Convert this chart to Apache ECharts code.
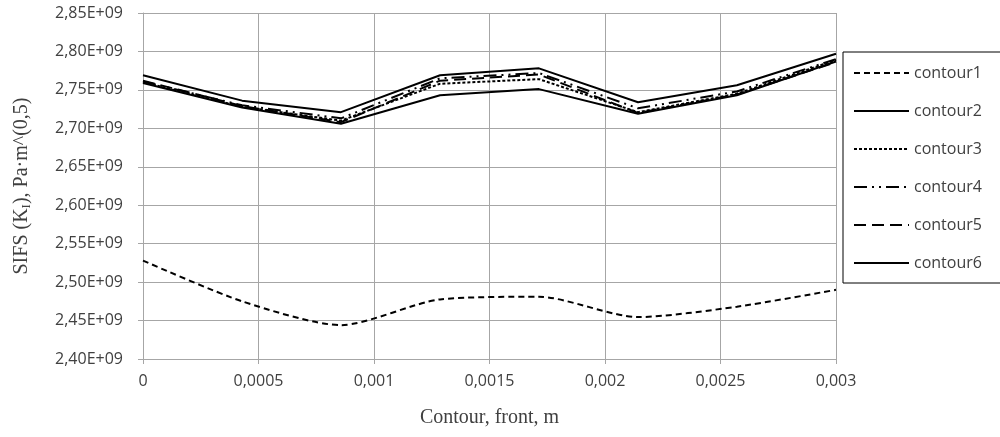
<!DOCTYPE html>
<html>
<head>
<meta charset="utf-8">
<script src="https://cdn.jsdelivr.net/npm/echarts@6/dist/echarts.min.js"></script>
<style>
  html, body { margin: 0; padding: 0; background: #fff; }
  #main { width: 1000px; height: 437px; }
</style>
</head>
<body>
<div id="main"></div>
<script>
// crack front position, m
var front = [0, 0.000429, 0.000857, 0.001286, 0.001714, 0.002143, 0.002571, 0.003];

// SIFS values, Pa*m^0.5
var contour1 = [2.528e9, 2.475e9, 2.444e9, 2.4775e9, 2.481e9, 2.4545e9, 2.468e9, 2.490e9];
var contour2 = [2.759e9, 2.727e9, 2.706e9, 2.743e9, 2.751e9, 2.719e9, 2.743e9, 2.787e9];
var contour3 = [2.760e9, 2.728e9, 2.710e9, 2.758e9, 2.764e9, 2.721e9, 2.745e9, 2.789e9];
var contour4 = [2.761e9, 2.730e9, 2.713e9, 2.765e9, 2.772e9, 2.726e9, 2.748e9, 2.790e9];
var contour5 = [2.762e9, 2.729e9, 2.708e9, 2.762e9, 2.770e9, 2.720e9, 2.744e9, 2.786e9];
var contour6 = [2.769e9, 2.736e9, 2.721e9, 2.769e9, 2.778e9, 2.734e9, 2.756e9, 2.797e9];

var names = ['contour1', 'contour2', 'contour3', 'contour4', 'contour5', 'contour6'];
var values = [contour1, contour2, contour3, contour4, contour5, contour6];
var dashes = [[6, 4], 'solid', [3, 2], [13, 5, 2, 5, 2, 5], [12, 6], 'solid'];

function pairs(ys) {
  return front.map(function (x, i) { return [x, ys[i]]; });
}

var chart = echarts.init(document.getElementById('main'));
var gridColor = '#a6a6a6';
var labelFont = 'Open Sans';

var option = {
  animation: false,
  backgroundColor: '#fff',
  grid: { left: 143, right: 164, top: 13, bottom: 78 },
  legend: {
    orient: 'vertical',
    left: 843,
    top: 52,
    data: names,
    itemWidth: 55,
    itemHeight: 14,
    itemGap: 22,
    padding: [13, 110, 12, 10],
    borderColor: '#000',
    borderWidth: 1,
    itemStyle: { opacity: 0 },
    textStyle: { fontFamily: labelFont, fontSize: 16, color: '#404040' }
  },
  xAxis: {
    type: 'value',
    min: 0,
    max: 0.003,
    interval: 0.0005,
    name: 'Contour, front, m',
    nameLocation: 'middle',
    nameGap: 49,
    nameTextStyle: { fontFamily: 'Liberation Serif', fontSize: 20, color: '#404040' },
    axisLine: { lineStyle: { color: gridColor } },
    axisTick: { show: true, length: 5, lineStyle: { color: gridColor } },
    splitLine: { show: true, lineStyle: { color: gridColor, width: 1 } },
    axisLabel: {
      margin: 14,
      fontFamily: labelFont, fontSize: 16, color: '#404040',
      formatter: function (v) { return String(+v.toFixed(4)).replace('.', ','); }
    }
  },
  yAxis: {
    type: 'value',
    min: 2.4e9,
    max: 2.85e9,
    interval: 0.05e9,
    name: '{a|SIFS (K}{s|I}{a|), Pa·m^(0,5)}',
    nameLocation: 'middle',
    nameRotate: 90,
    nameGap: 110,
    nameTextStyle: {
      fontFamily: 'Liberation Serif', fontSize: 20, color: '#404040',
      rich: {
        a: { fontFamily: 'Liberation Serif', fontSize: 20, color: '#404040' },
        s: { fontFamily: 'Liberation Serif', fontSize: 13, color: '#404040', verticalAlign: 'bottom', padding: [9, 0, 0, 0] }
      }
    },
    axisLine: { show: true, lineStyle: { color: gridColor } },
    axisTick: { show: true, length: 5, lineStyle: { color: gridColor } },
    splitLine: { show: true, lineStyle: { color: gridColor, width: 1 } },
    axisLabel: {
      margin: 20,
      fontFamily: labelFont, fontSize: 16, color: '#404040',
      formatter: function (v) { return (v / 1e9).toFixed(2).replace('.', ',') + 'E+09'; }
    }
  },
  series: names.map(function (n, i) {
    return {
      name: n,
      type: 'line',
      data: pairs(values[i]),
      symbol: 'none',
      smooth: i === 0 ? 0.25 : false,
      lineStyle: { color: '#000', width: 2, type: dashes[i] },
      itemStyle: { color: '#000' }
    };
  })
};

chart.setOption(option);
</script>
</body>
</html>
